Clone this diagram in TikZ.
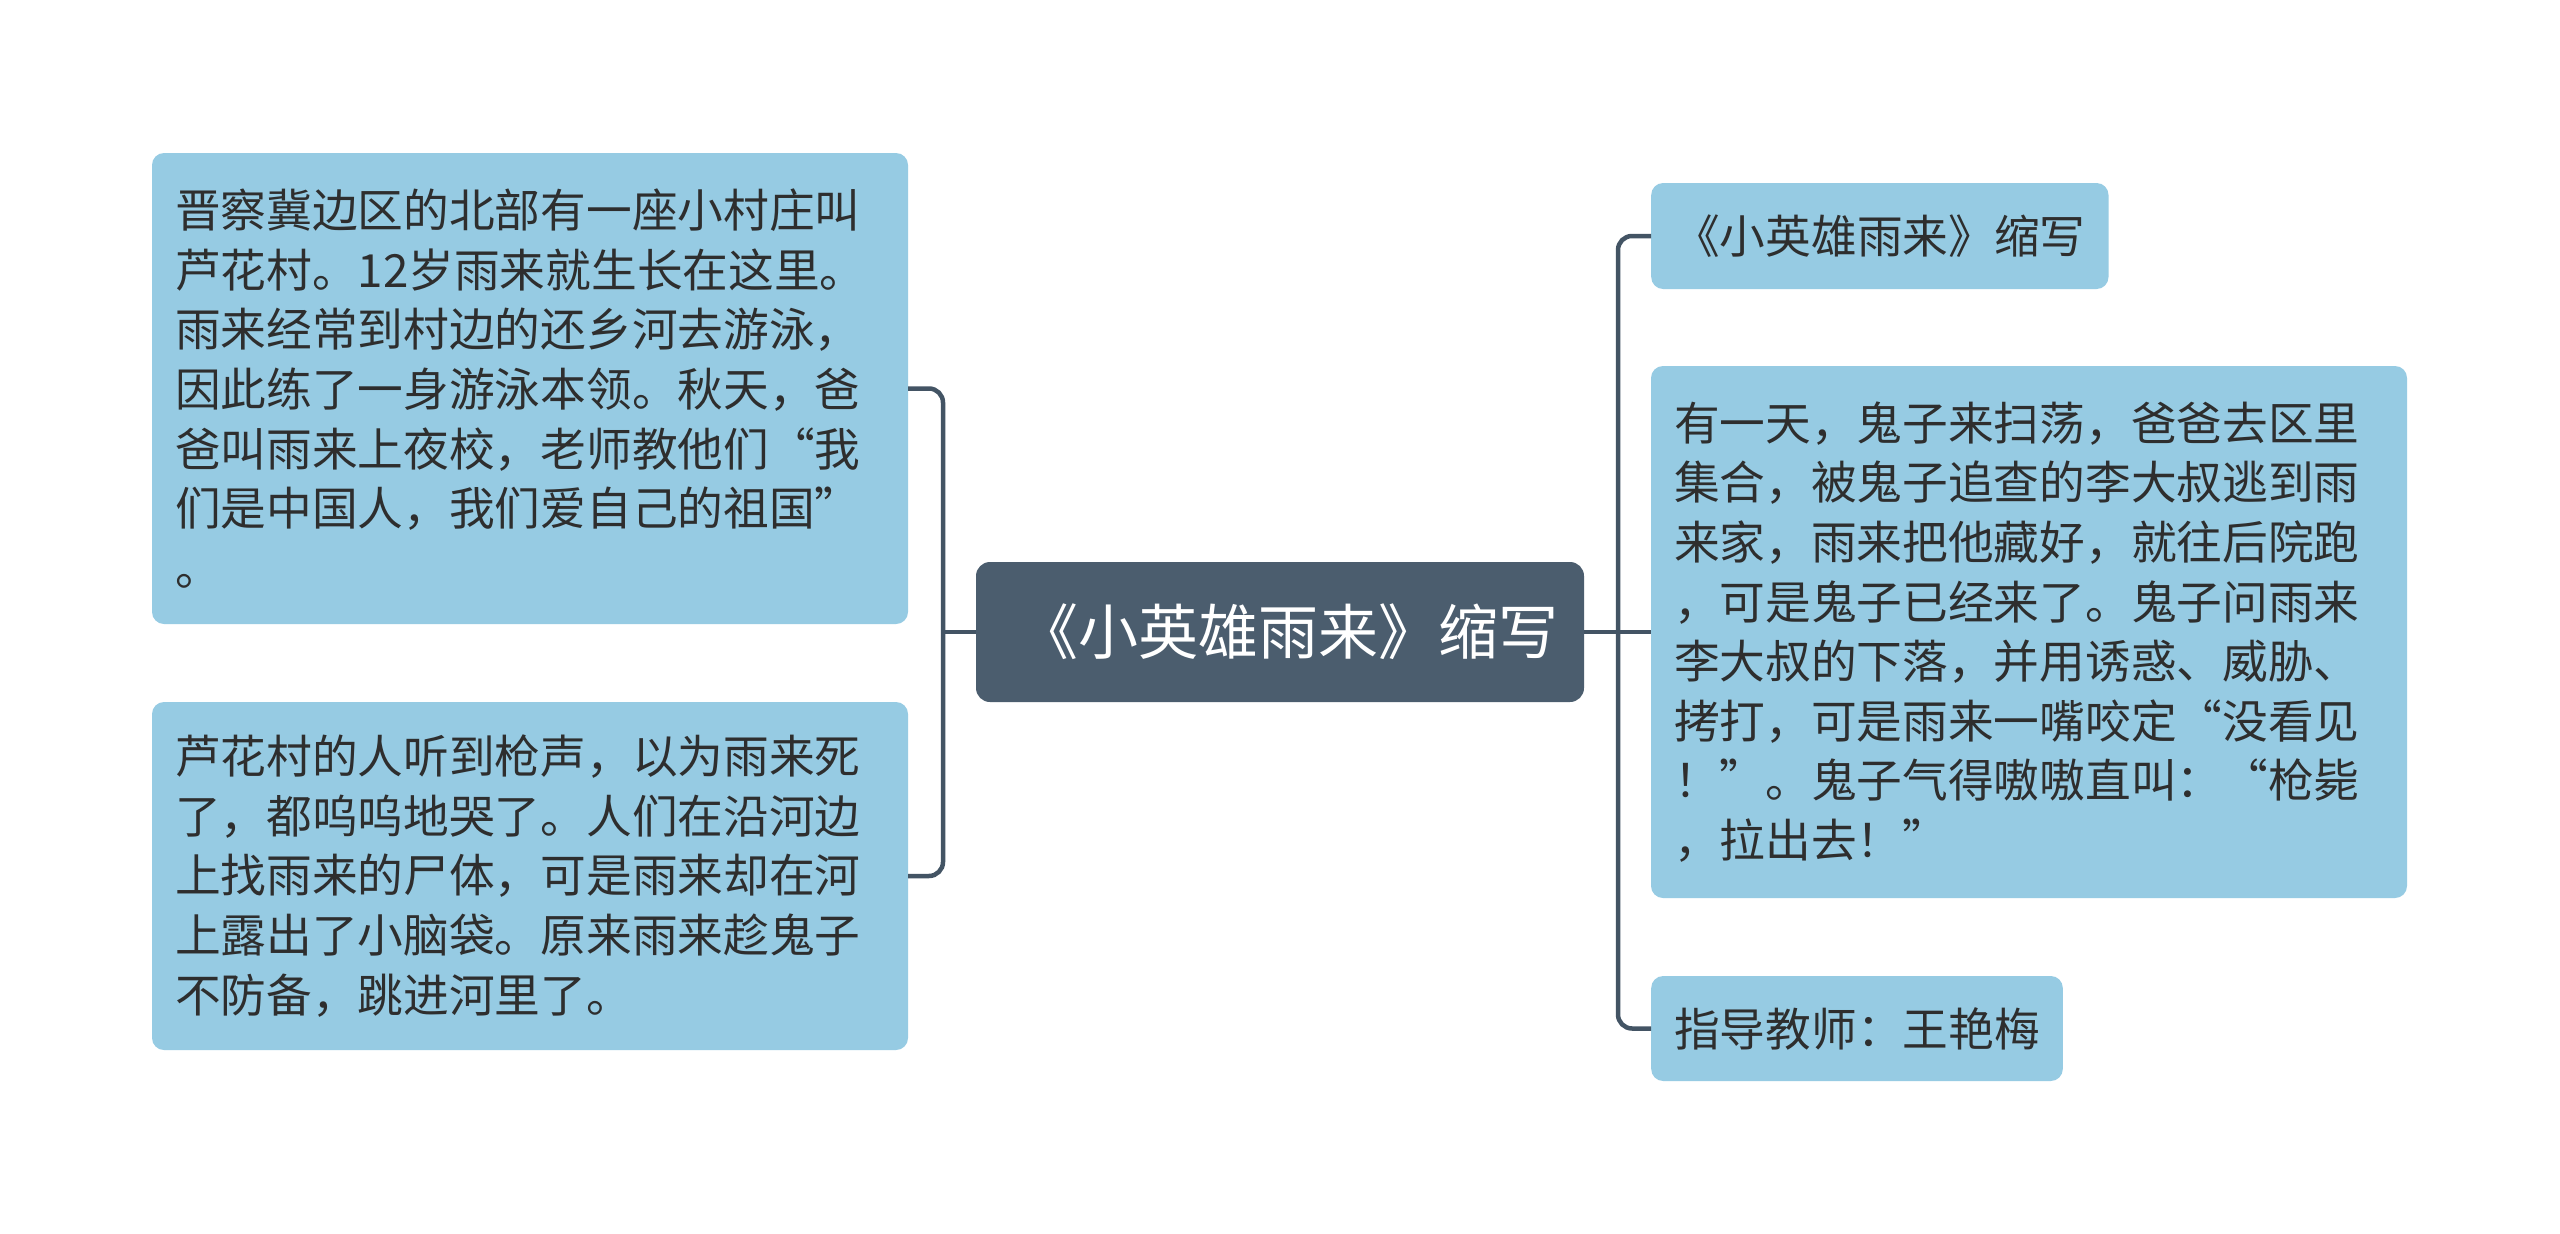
\documentclass[tikz,border=0pt]{standalone}
\usepackage{fontspec}
\setmainfont{Noto Sans CJK SC}
\definecolor{boxblue}{HTML}{96CBE3}
\definecolor{slate}{HTML}{4B5D6E}
\definecolor{linec}{HTML}{435464}
\definecolor{txt}{HTML}{2E2E2E}
\tikzset{
  conn/.style={draw=linec, line width=4.5pt, rounded corners=14pt},
  leaf/.style={fill=boxblue, rounded corners=12pt, text=txt, align=left,
    inner xsep=23pt, inner ysep=0pt, font=\fontsize{45.7}{59.6}\selectfont},
  rootbox/.style={fill=slate, rounded corners=14pt, text=white,
    minimum width=608pt, minimum height=140pt,
    font=\fontsize{60}{72}\selectfont}
}
\begin{document}
\begin{tikzpicture}[x=1pt,y=-1pt]
\useasboundingbox[fill=white] (0,0) rectangle (2560,1234);

\node[rootbox] (root) at (1280,632) {\hspace*{16pt}《小英雄雨来》缩写};

\node[leaf, text width=710pt, minimum height=471pt] (lt) at (530,388.5) {晋察冀边区的北部有一座小村庄叫\\芦花村。12岁雨来就生长在这里。\\雨来经常到村边的还乡河去游泳，\\因此练了一身游泳本领。秋天，爸\\爸叫雨来上夜校，老师教他们“我\\们是中国人，我们爱自己的祖国”\\。};

\node[leaf, text width=710pt, minimum height=348pt] (lb) at (530,876) {芦花村的人听到枪声，以为雨来死\\了，都呜呜地哭了。人们在沿河边\\上找雨来的尸体，可是雨来却在河\\上露出了小脑袋。原来雨来趁鬼子\\不防备，跳进河里了。};

\node[leaf, minimum height=106pt, anchor=west] (r1) at (1651,236) {《小英雄雨来》缩写};

\node[leaf, text width=710pt, minimum height=532pt] (r2) at (2029,632) {有一天，鬼子来扫荡，爸爸去区里\\集合，被鬼子追查的李大叔逃到雨\\来家，雨来把他藏好，就往后院跑\\，可是鬼子已经来了。鬼子问雨来\\李大叔的下落，并用诱惑、威胁、\\拷打，可是雨来一嘴咬定“没看见\\！”。鬼子气得嗷嗷直叫：“枪毙\\，拉出去！”};

\node[leaf, minimum height=105pt, anchor=west] (r3) at (1651,1028.5) {指导教师：王艳梅};

\coordinate (ls) at (943,632);
\coordinate (rs) at (1618,632);

\draw[conn] (root.west) -- (ls);
\draw[conn] (lt.east) -| (ls |- lb.east) -- (lb.east);
\draw[conn] (root.east) -- (r2.west);
\draw[conn] (r1.west) -| (rs |- r3.west) -- (r3.west);
\end{tikzpicture}
\end{document}
